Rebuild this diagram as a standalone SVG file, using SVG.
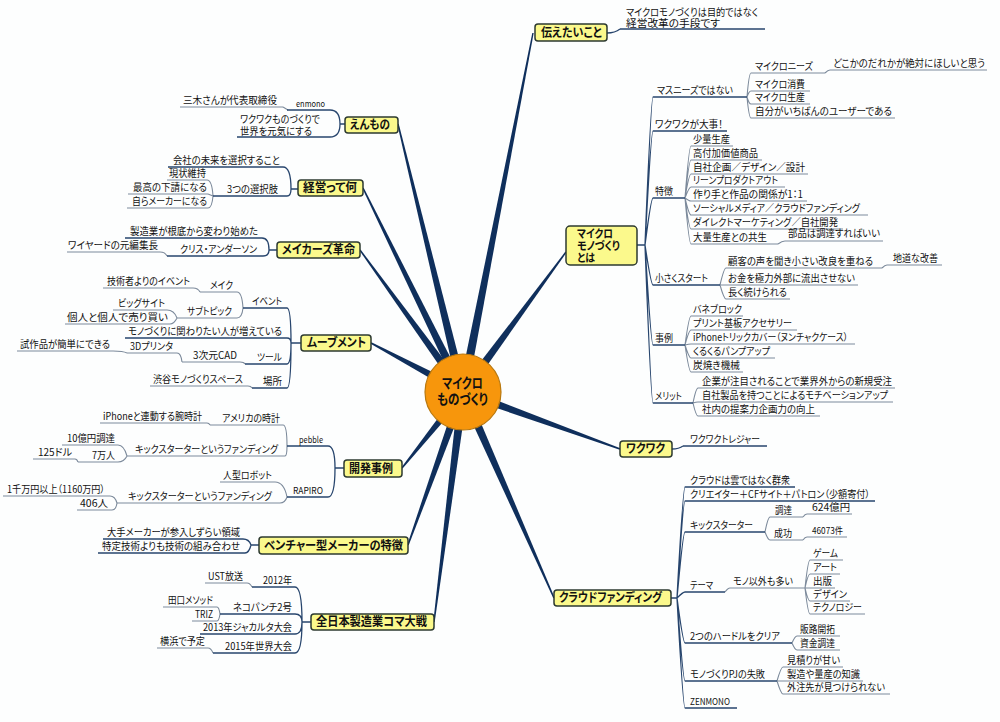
<svg xmlns="http://www.w3.org/2000/svg" width="1000" height="722" viewBox="0 0 1000 722">
<style>
text{font-family:"Noto Sans CJK JP","Noto Sans",sans-serif;fill:#111;font-feature-settings:"palt"}
.t{font-size:10px}
.s{font-size:9px}
.m{font-size:12.5px;font-weight:bold}
.m2{font-size:11.5px;font-weight:bold}
.c{font-size:14px;font-weight:bold}
.box{fill:#fbf98c;stroke:#2d3a30;stroke-width:1.5}
.u1{stroke:#27456d;stroke-width:1.3;fill:none}
.u2{stroke:#7c8a9b;stroke-width:1.1;fill:none}
.mc{fill:#0f2f5c}
</style>
<rect width="1000" height="722" fill="#fdfefe"/>
<g id="connectors">
<polygon class="mc" points="467.4,392.9 533.7,33.1 532.3,32.9 458.6,391.1"/>
<polygon class="mc" points="466.6,394.7 566.6,252.4 565.4,251.6 459.4,389.3"/>
<polygon class="mc" points="461.5,396.2 619.7,449.7 620.3,448.3 464.5,387.8"/>
<polygon class="mc" points="458.9,393.8 553.3,598.3 554.7,597.7 467.1,390.2"/>
<polygon class="mc" points="467.4,390.9 398.7,123.8 397.3,124.2 458.6,393.1"/>
<polygon class="mc" points="467.0,390.0 363.7,187.7 362.3,188.3 459.0,394.0"/>
<polygon class="mc" points="466.6,389.4 360.6,249.6 359.4,250.4 459.4,394.6"/>
<polygon class="mc" points="465.1,388.0 371.4,342.3 370.6,343.7 460.9,396.0"/>
<polygon class="mc" points="459.5,389.2 401.4,467.5 402.6,468.5 466.5,394.8"/>
<polygon class="mc" points="458.8,390.5 407.3,544.7 408.7,545.3 467.2,393.5"/>
<polygon class="mc" points="458.5,391.4 433.3,621.9 434.7,622.1 467.5,392.6"/>
<path class="u1" d="M340,124 H345 M330,110 Q340,110 340,124 M330,137 Q340,137 340,124"/>
<path class="u2" d="M283,107 L288,110"/>
<path class="u1" d="M291,189 H298 M283,167 Q291,167 291,189 M287,196 Q291,196 291,189"/>
<path class="u2" d="M207,180 Q212,180 213,196 M208,194 L213,196 M208,208 Q212,208 213,196"/>
<path class="u1" d="M269,250 H277 M262,238 Q269,238 269,250 M263,256 Q269,256 269,250"/>
<path class="u2" d="M160,252 Q165,252 167,256"/>
<path class="u1" d="M291,343 H301 M287,308 Q291,308 291,343 M287,338 Q291,338 291,343 M287,364 Q291,364 291,343 M287,388 Q291,388 291,343"/>
<path class="u2" d="M237,292 Q242,292 243,308 M193,288 Q198,288 200,292 M237,318 Q242,318 243,308 M167,310 Q174,310 177,318 M170,324 Q174,324 177,318 M240,362 Q244,362 245,364 M177,353 Q181,353 182,362 M113,351 Q123,351 127,353 M248,386 Q251,386 252,388"/>
<path class="u1" d="M335,468 H344 M328,446 Q335,446 335,468 M328,497 Q335,497 335,468"/>
<path class="u2" d="M283,425 Q287,425 287,446 M207,423 Q209,423 210,425 M285,456 Q287,456 287,446 M118,445 Q124,445 127,456 M118,462 Q124,462 127,456 M75,459 Q77,459 78,462 M275,482 Q284,482 287,497 M280,503 Q285,503 287,497 M110,496 Q115,496 117,503 M112,510 Q116,510 117,503"/>
<path class="u1" d="M251,545 H259 M243,539 Q249,539 251,545 M245,553 Q249,553 251,545"/>
<path class="u1" d="M302,622 H311 M295,587 Q302,587 302,622 M295,614 Q302,614 302,622 M295,634 Q302,634 302,622 M295,653 Q302,653 302,622"/>
<path class="u2" d="M247,583 Q250,583 252,587 M217,607 Q219,607 220,614 M217,621 Q219,621 220,614 M208,648 Q211,648 213,653"/>
<path class="u1" d="M607,33 Q615,33 620,29"/>
<path class="u1" d="M637,245 H645 M645,245 Q651,97 653,97 M645,245 Q651,131 653,131 M645,245 Q651,198 653,198 M645,245 Q651,285 653,285 M645,245 Q651,345 653,345 M645,245 Q651,403 653,403"/>
<path class="u2" d="M747,97 Q749,73 751,73 M747,97 Q749,91 751,91 M747,97 Q749,104 751,104 M747,97 Q749,118 751,118 M825,73 Q828,70 830,70
M685,198 Q689,146 691,146 M685,198 Q689,160 691,160 M685,198 Q689,174 691,174 M685,198 Q689,187 691,187 M685,198 Q689,201 691,201 M685,198 Q689,215 691,215 M685,198 Q689,229 691,229 M685,198 Q689,244 691,244 M778,244 Q782,241 785,241
M720,285 Q724,268 726,268 M720,285 H726 M720,285 Q724,299 726,299 M882,268 Q885,265 887,265
M685,345 Q689,316 691,316 M685,345 Q689,330 691,330 M685,345 Q689,344 691,344 M685,345 Q689,358 691,358 M685,345 Q689,372 691,372
M693,403 Q696,388 698,388 M693,403 Q696,402 698,402 M693,403 Q696,416 698,416"/>
<path class="u1" d="M672,449 Q679,449 683,446"/>
<path class="u1" d="M671,598 H677 M677,598 Q683,487 685,487 M677,598 Q683,501 685,501 M677,598 Q683,532 685,532 M677,598 Q683,592 685,592 M677,598 Q683,643 685,643 M677,598 Q683,681 685,681 M677,598 Q683,708 685,708"/>
<path class="u2" d="M765,532 Q768,517 770,517 M765,532 Q768,540 770,540 M803,517 Q805,514 807,514 M803,540 Q805,537 807,537 M725,592 Q728,588 730,588
M805,588 Q808,560 810,560 M805,588 Q808,574 810,574 M805,588 H810 M805,588 Q808,601 810,601 M805,588 Q808,614 810,614
M792,643 Q795,636 797,636 M792,643 Q795,650 797,650
M777,681 Q781,667 783,667 M777,681 H783 M777,681 Q781,694 783,694"/>
</g>
<g id="center">
<circle cx="463" cy="392" r="38" fill="#f7960c" stroke="#b9780e" stroke-width="1.2"/>
<text class="c" x="442" y="388" textLength="41" lengthAdjust="spacingAndGlyphs">マイクロ</text>
<text class="c" x="437" y="404" textLength="51" lengthAdjust="spacingAndGlyphs">ものづくり</text>
</g>
<g id="node-enmono">
<rect class="box" x="345" y="117" width="53" height="16" rx="3"/>
<text class="m" x="350" y="129" textLength="40" lengthAdjust="spacingAndGlyphs">えんもの</text>
<path class="u1" d="M287,110 H330 M237,137 H330"/>
<path class="u2" d="M180,107 H283"/>
<text class="s" x="296" y="107" textLength="29" lengthAdjust="spacingAndGlyphs">enmono</text>
<text class="t" x="183" y="104" textLength="94" lengthAdjust="spacingAndGlyphs">三木さんが代表取締役</text>
<text class="t" x="240" y="123" textLength="80" lengthAdjust="spacingAndGlyphs">ワクワクものづくりで</text>
<text class="t" x="240" y="134.5" textLength="72" lengthAdjust="spacingAndGlyphs">世界を元気にする</text>
</g>
<g id="node-keiei">
<rect class="box" x="298" y="180" width="65" height="16" rx="3"/>
<text class="m" x="303" y="192" textLength="54" lengthAdjust="spacingAndGlyphs">経営って何</text>
<path class="u1" d="M168,167 H283 M213,196 H287"/>
<path class="u2" d="M167,180 H207 M128,194 H208 M127,208 H208"/>
<text class="t" x="173" y="164" textLength="107" lengthAdjust="spacingAndGlyphs">会社の未来を選択すること</text>
<text class="t" x="227" y="193" textLength="51" lengthAdjust="spacingAndGlyphs">3つの選択肢</text>
<text class="t" x="169" y="177" textLength="37" lengthAdjust="spacingAndGlyphs">現状維持</text>
<text class="t" x="133" y="191" textLength="74" lengthAdjust="spacingAndGlyphs">最高の下請になる</text>
<text class="t" x="132" y="205" textLength="75" lengthAdjust="spacingAndGlyphs">自らメーカーになる</text>
</g>
<g id="node-makers">
<rect class="box" x="277" y="242" width="83" height="16" rx="3"/>
<text class="m" x="282" y="254" textLength="73" lengthAdjust="spacingAndGlyphs">メイカーズ革命</text>
<path class="u1" d="M125,238 H262 M167,256 H263"/>
<path class="u2" d="M67,252 H160"/>
<text class="t" x="130" y="235" textLength="128" lengthAdjust="spacingAndGlyphs">製造業が根底から変わり始めた</text>
<text class="t" x="180" y="253" textLength="77" lengthAdjust="spacingAndGlyphs">クリス・アンダーソン</text>
<text class="t" x="68" y="249" textLength="90" lengthAdjust="spacingAndGlyphs">ワイヤードの元編集長</text>
</g>
<g id="node-movement">
<rect class="box" x="301" y="335" width="70" height="16" rx="3"/>
<text class="m" x="307" y="347" textLength="59" lengthAdjust="spacingAndGlyphs">ムーブメント</text>
<path class="u1" d="M243,308 H287 M125,338 H287 M245,364 H287 M252,388 H287"/>
<path class="u2" d="M200,292 H237 M103,288 H193 M177,318 H237 M113,310 H167 M65,324 H170 M182,362 H240 M127,353 H177 M17,351 H113 M150,386 H248"/>
<text class="t" x="252" y="305" textLength="30" lengthAdjust="spacingAndGlyphs">イベント</text>
<text class="t" x="210" y="289" textLength="23" lengthAdjust="spacingAndGlyphs">メイク</text>
<text class="t" x="107" y="285" textLength="83" lengthAdjust="spacingAndGlyphs">技術者よりのイベント</text>
<text class="t" x="187" y="315" textLength="45" lengthAdjust="spacingAndGlyphs">サブトピック</text>
<text class="t" x="118" y="307" textLength="47" lengthAdjust="spacingAndGlyphs">ビッグサイト</text>
<text class="t" x="67" y="321" textLength="101" lengthAdjust="spacingAndGlyphs">個人と個人で売り買い</text>
<text class="t" x="128" y="335" textLength="154" lengthAdjust="spacingAndGlyphs">モノづくりに関わりたい人が増えている</text>
<text class="t" x="257" y="361" textLength="25" lengthAdjust="spacingAndGlyphs">ツール</text>
<text class="t" x="193" y="359" textLength="44" lengthAdjust="spacingAndGlyphs">3次元CAD</text>
<text class="t" x="130" y="350" textLength="43" lengthAdjust="spacingAndGlyphs">3Dプリンタ</text>
<text class="t" x="20" y="348" textLength="90" lengthAdjust="spacingAndGlyphs">試作品が簡単にできる</text>
<text class="t" x="263" y="385" textLength="19" lengthAdjust="spacingAndGlyphs">場所</text>
<text class="t" x="153" y="383" textLength="90" lengthAdjust="spacingAndGlyphs">渋谷モノづくりスペース</text>
</g>
<g id="node-kaihatsu">
<rect class="box" x="344" y="460" width="58" height="17" rx="3"/>
<text class="m" x="349" y="473" textLength="44" lengthAdjust="spacingAndGlyphs">開発事例</text>
<path class="u1" d="M287,446 H328 M287,497 H328"/>
<path class="u2" d="M210,425 H283 M100,423 H207 M127,456 H285 M62,445 H118 M78,462 H118 M33,459 H75 M220,482 H275 M117,503 H280 M3,496 H110 M77,510 H112"/>
<text class="s" x="299" y="443" textLength="24" lengthAdjust="spacingAndGlyphs">pebble</text>
<text class="t" x="222" y="422" textLength="58" lengthAdjust="spacingAndGlyphs">アメリカの時計</text>
<text class="t" x="103" y="420" textLength="99" lengthAdjust="spacingAndGlyphs">iPhoneと連動する腕時計</text>
<text class="t" x="135" y="453" textLength="143" lengthAdjust="spacingAndGlyphs">キックスターターというファンディング</text>
<text class="t" x="67" y="442" textLength="48" lengthAdjust="spacingAndGlyphs">10億円調達</text>
<text class="t" x="92" y="459" textLength="23" lengthAdjust="spacingAndGlyphs">7万人</text>
<text class="t" x="38" y="456" textLength="34" lengthAdjust="spacingAndGlyphs">125ドル</text>
<text class="s" x="293" y="494" textLength="30" lengthAdjust="spacingAndGlyphs">RAPIRO</text>
<text class="t" x="223" y="479" textLength="49" lengthAdjust="spacingAndGlyphs">人型ロボット</text>
<text class="t" x="128" y="500" textLength="144" lengthAdjust="spacingAndGlyphs">キックスターターというファンディング</text>
<text class="t" x="7" y="493" textLength="98" lengthAdjust="spacingAndGlyphs">1千万円以上（1160万円）</text>
<text class="t" x="80" y="507" textLength="28" lengthAdjust="spacingAndGlyphs">406人</text>
</g>
<g id="node-venture">
<rect class="box" x="259" y="537" width="149" height="17" rx="3"/>
<text class="m" x="264" y="550" textLength="139" lengthAdjust="spacingAndGlyphs">ベンチャー型メーカーの特徴</text>
<path class="u1" d="M103,539 H243 M98,553 H245"/>
<text class="t" x="107" y="536" textLength="133" lengthAdjust="spacingAndGlyphs">大手メーカーが参入しずらい領域</text>
<text class="t" x="102" y="550" textLength="138" lengthAdjust="spacingAndGlyphs">特定技術よりも技術の組み合わせ</text>
</g>
<g id="node-koma">
<rect class="box" x="311" y="614" width="123" height="16" rx="3"/>
<text class="m" x="316" y="626" textLength="111" lengthAdjust="spacingAndGlyphs">全日本製造業コマ大戦</text>
<path class="u1" d="M252,587 H295 M220,614 H295 M200,634 H295 M213,653 H295"/>
<path class="u2" d="M205,583 H247 M163,607 H217 M192,621 H217 M157,648 H208"/>
<text class="t" x="263" y="584" textLength="29" lengthAdjust="spacingAndGlyphs">2012年</text>
<text class="t" x="208" y="580" textLength="35" lengthAdjust="spacingAndGlyphs">UST放送</text>
<text class="t" x="233" y="611" textLength="59" lengthAdjust="spacingAndGlyphs">ネコパンチ2号</text>
<text class="t" x="168" y="604" textLength="45" lengthAdjust="spacingAndGlyphs">田口メソッド</text>
<text class="t" x="195" y="618" textLength="18" lengthAdjust="spacingAndGlyphs">TRIZ</text>
<text class="t" x="203" y="631" textLength="89" lengthAdjust="spacingAndGlyphs">2013年ジャカルタ大会</text>
<text class="t" x="225" y="650" textLength="67" lengthAdjust="spacingAndGlyphs">2015年世界大会</text>
<text class="t" x="160" y="645" textLength="45" lengthAdjust="spacingAndGlyphs">横浜で予定</text>
</g>
<g id="node-tsutaetai">
<rect class="box" x="535" y="24" width="72" height="17" rx="3"/>
<text class="m" x="541" y="37" textLength="61" lengthAdjust="spacingAndGlyphs">伝えたいこと</text>
<path class="u1" d="M620,29 H765"/>
<text class="t" x="626" y="15.5" textLength="132" lengthAdjust="spacingAndGlyphs">マイクロモノづくりは目的ではなく</text>
<text class="t" x="626" y="27" textLength="94" lengthAdjust="spacingAndGlyphs">経営改革の手段です</text>
</g>
<g id="node-towa">
<rect class="box" x="566" y="226" width="71" height="39" rx="4"/>
<text class="m2" x="577" y="237.5" textLength="36" lengthAdjust="spacingAndGlyphs">マイクロ</text>
<text class="m2" x="577" y="249.5" textLength="43" lengthAdjust="spacingAndGlyphs">モノづくり</text>
<text class="m2" x="577" y="261.5" textLength="18" lengthAdjust="spacingAndGlyphs">とは</text>
<path class="u1" d="M653,97 H747 M653,131 H727 M653,198 H685 M653,285 H720 M653,345 H685 M653,403 H693"/>
<path class="u2" d="M751,73 H825 M830,70 H987 M751,91 H810 M751,104 H810 M751,118 H895
M691,146 H733 M691,160 H762 M691,174 H808 M691,187 H785 M691,201 H807 M691,215 H868 M691,229 H843 M691,244 H778 M785,241 H883
M726,268 H882 M887,265 H942 M726,285 H858 M726,299 H790
M691,316 H743 M691,330 H797 M691,344 H855 M691,358 H775 M691,372 H743
M698,388 H895 M698,402 H893 M698,416 H820"/>
<text class="t" x="657" y="94" textLength="76" lengthAdjust="spacingAndGlyphs">マスニーズではない</text>
<text class="t" x="755" y="70" textLength="58" lengthAdjust="spacingAndGlyphs">マイクロニーズ</text>
<text class="t" x="833" y="67" textLength="152" lengthAdjust="spacingAndGlyphs">どこかのだれかが絶対にほしいと思う</text>
<text class="t" x="755" y="88" textLength="50" lengthAdjust="spacingAndGlyphs">マイクロ消費</text>
<text class="t" x="755" y="101" textLength="50" lengthAdjust="spacingAndGlyphs">マイクロ生産</text>
<text class="t" x="755" y="115" textLength="137" lengthAdjust="spacingAndGlyphs">自分がいちばんのユーザーである</text>
<text class="t" x="655" y="128" textLength="68" lengthAdjust="spacingAndGlyphs">ワクワクが大事！</text>
<text class="t" x="655" y="195" textLength="18" lengthAdjust="spacingAndGlyphs">特徴</text>
<text class="t" x="693" y="143" textLength="37" lengthAdjust="spacingAndGlyphs">少量生産</text>
<text class="t" x="693" y="157" textLength="65" lengthAdjust="spacingAndGlyphs">高付加価値商品</text>
<text class="t" x="693" y="171" textLength="112" lengthAdjust="spacingAndGlyphs">自社企画／デザイン／設計</text>
<text class="t" x="693" y="184" textLength="85" lengthAdjust="spacingAndGlyphs">リーンプロダクトアウト</text>
<text class="t" x="693" y="198" textLength="110" lengthAdjust="spacingAndGlyphs">作り手と作品の関係が1：1</text>
<text class="t" x="693" y="212" textLength="167" lengthAdjust="spacingAndGlyphs">ソーシャルメディア／クラウドファンディング</text>
<text class="t" x="693" y="226" textLength="145" lengthAdjust="spacingAndGlyphs">ダイレクトマーケティング／自社開発</text>
<text class="t" x="693" y="241" textLength="74" lengthAdjust="spacingAndGlyphs">大量生産との共生</text>
<text class="t" x="788" y="237" textLength="92" lengthAdjust="spacingAndGlyphs">部品は調達すればいい</text>
<text class="t" x="655" y="282" textLength="53" lengthAdjust="spacingAndGlyphs">小さくスタート</text>
<text class="t" x="728" y="265" textLength="145" lengthAdjust="spacingAndGlyphs">顧客の声を聞き小さい改良を重ねる</text>
<text class="t" x="893" y="262" textLength="45" lengthAdjust="spacingAndGlyphs">地道な改善</text>
<text class="t" x="728" y="282" textLength="127" lengthAdjust="spacingAndGlyphs">お金を極力外部に流出させない</text>
<text class="t" x="728" y="296" textLength="59" lengthAdjust="spacingAndGlyphs">長く続けられる</text>
<text class="t" x="655" y="342" textLength="18" lengthAdjust="spacingAndGlyphs">事例</text>
<text class="t" x="693" y="313" textLength="49" lengthAdjust="spacingAndGlyphs">バネブロック</text>
<text class="t" x="693" y="327" textLength="99" lengthAdjust="spacingAndGlyphs">プリント基板アクセサリー</text>
<text class="t" x="693" y="341" textLength="155" lengthAdjust="spacingAndGlyphs">iPhoneトリックカバー（ヌンチャクケース）</text>
<text class="t" x="693" y="355" textLength="77" lengthAdjust="spacingAndGlyphs">くるくるパンプアップ</text>
<text class="t" x="693" y="369" textLength="47" lengthAdjust="spacingAndGlyphs">炭焼き機械</text>
<text class="t" x="655" y="400" textLength="27" lengthAdjust="spacingAndGlyphs">メリット</text>
<text class="t" x="702" y="385" textLength="190" lengthAdjust="spacingAndGlyphs">企業が注目されることで業界外からの新規受注</text>
<text class="t" x="702" y="399" textLength="186" lengthAdjust="spacingAndGlyphs">自社製品を持つことによるモチベーションアップ</text>
<text class="t" x="702" y="413" textLength="113" lengthAdjust="spacingAndGlyphs">社内の提案力企画力の向上</text>
</g>
<g id="node-wakuwaku">
<rect class="box" x="620" y="441" width="52" height="16" rx="3"/>
<text class="m" x="626" y="453" textLength="39" lengthAdjust="spacingAndGlyphs">ワクワク</text>
<path class="u1" d="M683,446 H767"/>
<text class="t" x="690" y="443" textLength="70" lengthAdjust="spacingAndGlyphs">ワクワクトレジャー</text>
</g>
<g id="node-crowd">
<rect class="box" x="554" y="590" width="117" height="16" rx="3"/>
<text class="m" x="559" y="602" textLength="103" lengthAdjust="spacingAndGlyphs">クラウドファンディング</text>
<path class="u1" d="M685,487 H795 M685,501 H875 M685,532 H765 M685,592 H725 M685,643 H792 M685,681 H777 M685,708 H737"/>
<path class="u2" d="M770,517 H803 M807,514 H852 M770,540 H803 M807,537 H847 M730,588 H805
M810,560 H843 M810,574 H840 M810,588 H835 M810,601 H850 M810,614 H865
M797,636 H840 M797,650 H840 M783,667 H843 M783,681 H863 M783,694 H890"/>
<text class="t" x="690" y="484" textLength="100" lengthAdjust="spacingAndGlyphs">クラウドは雲ではなく群衆</text>
<text class="t" x="690" y="498" textLength="180" lengthAdjust="spacingAndGlyphs">クリエイター＋CFサイト＋パトロン（少額寄付）</text>
<text class="t" x="690" y="529" textLength="63" lengthAdjust="spacingAndGlyphs">キックスターター</text>
<text class="t" x="775" y="514" textLength="17" lengthAdjust="spacingAndGlyphs">調達</text>
<text class="t" x="812" y="511" textLength="38" lengthAdjust="spacingAndGlyphs">624億円</text>
<text class="t" x="774" y="537" textLength="18" lengthAdjust="spacingAndGlyphs">成功</text>
<text class="s" x="812" y="534" textLength="31" lengthAdjust="spacingAndGlyphs">46073件</text>
<text class="t" x="690" y="589" textLength="23" lengthAdjust="spacingAndGlyphs">テーマ</text>
<text class="t" x="733" y="585" textLength="60" lengthAdjust="spacingAndGlyphs">モノ以外も多い</text>
<text class="t" x="813" y="557" textLength="25" lengthAdjust="spacingAndGlyphs">ゲーム</text>
<text class="t" x="813" y="571" textLength="24" lengthAdjust="spacingAndGlyphs">アート</text>
<text class="t" x="813" y="585" textLength="19" lengthAdjust="spacingAndGlyphs">出版</text>
<text class="t" x="813" y="598" textLength="34" lengthAdjust="spacingAndGlyphs">デザイン</text>
<text class="t" x="813" y="611" textLength="49" lengthAdjust="spacingAndGlyphs">テクノロジー</text>
<text class="t" x="690" y="640" textLength="90" lengthAdjust="spacingAndGlyphs">2つのハードルをクリア</text>
<text class="t" x="800" y="633" textLength="35" lengthAdjust="spacingAndGlyphs">販路開拓</text>
<text class="t" x="800" y="647" textLength="35" lengthAdjust="spacingAndGlyphs">資金調達</text>
<text class="t" x="690" y="678" textLength="75" lengthAdjust="spacingAndGlyphs">モノづくりPJの失敗</text>
<text class="t" x="787" y="664" textLength="53" lengthAdjust="spacingAndGlyphs">見積りが甘い</text>
<text class="t" x="787" y="678" textLength="73" lengthAdjust="spacingAndGlyphs">製造や量産の知識</text>
<text class="t" x="787" y="691" textLength="98" lengthAdjust="spacingAndGlyphs">外注先が見つけられない</text>
<text class="s" x="690" y="705" textLength="40" lengthAdjust="spacingAndGlyphs">ZENMONO</text>
</g>
</svg>
